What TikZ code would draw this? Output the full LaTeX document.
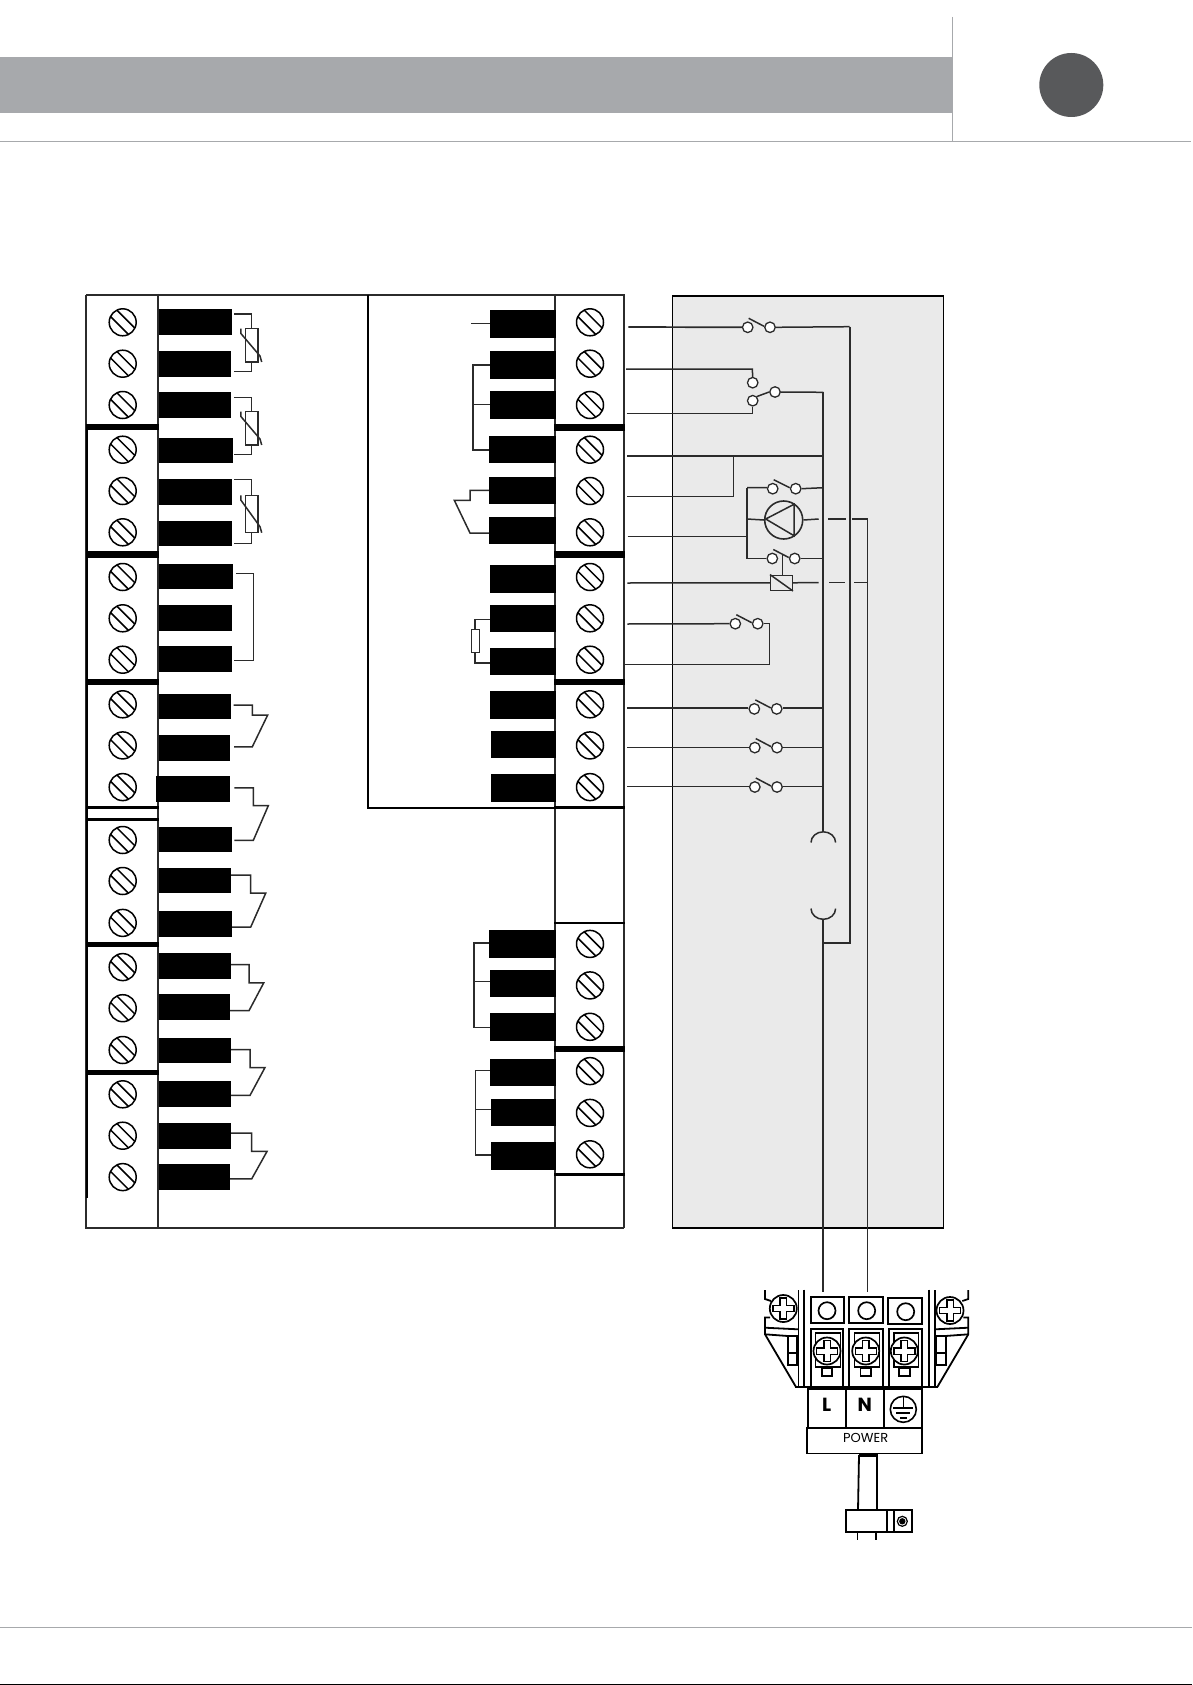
\documentclass[tikz,border=0pt]{standalone}
\usepackage{fontspec}
\setmainfont{Poppins}
\definecolor{hdr}{HTML}{A7A9AC}
\definecolor{dot}{HTML}{58595B}
\definecolor{panel}{HTML}{EAEAEA}
\definecolor{ink}{HTML}{2B2B2B}
\tikzset{
  wire/.style={line width=1.5pt,draw=ink,line join=miter},
  wall/.style={line width=2pt,draw=ink},
  divider/.style={draw=black},
  contact/.style={circle,draw=ink,fill=white,line width=1.3pt,inner sep=0pt,minimum size=10.5pt},
  screwhead/.style={circle,draw=black,fill=white,line width=1.5pt,inner sep=0pt,minimum size=27pt},
  barblock/.style={fill=black,draw=none,inner sep=0pt},
  tb/.style={line width=1.8pt,draw=black},
  tbscrew/.style={circle,draw=black,fill=white,line width=1.7pt,inner sep=0pt,minimum size=27pt},
}
% name, x, y
\newcommand{\slotscrew}[3]{%
  \node[screwhead] (#1) at (#2,#3) {};
  \draw[line width=1.5pt] (#2-5.8,#3-12.2) -- (#2+12.2,#3+5.8);
  \draw[line width=1.5pt] (#2-12.2,#3-5.8) -- (#2+5.8,#3+12.2);
}
% name, x0, x1, y0, y1
\newcommand{\blackbar}[5]{%
  \pgfmathsetmacro{\bw}{#3-#2}\pgfmathsetmacro{\bh}{#5-#4}%
  \node[barblock,minimum width=\bw pt,minimum height=\bh pt] (#1) at ({(#2+#3)/2},{(#4+#5)/2}) {};
}
% thermistor: x0, xm, y top, rect top, rect bot, y bot
\newcommand{\thermistor}[6]{%
  \draw[wire] (#1,#3) -- (#2,#3) -- (#2,#4) (#2,#5) -- (#2,#6) -- (#1,#6);
  \draw[wire,fill=white] (#2-6,#4) rectangle (#2+6.5,#5);
  \draw[wire] (#2-10.5,#4) -- (#2-10.5,#4+4.7) -- (#2+8.7,#5-6) -- (#2+10.4,#5);
}
% loop: x0,y0, xm, ymid, xtip, ybot, x1
\newcommand{\cloop}[7]{%
  \draw[wire] (#1,#2) -- (#3,#2) -- (#3,#4) -- (#5,#4) -- (#3,#6) -- (#7,#6);
}
% phillips screw on terminal
\newcommand{\crossscrew}[4]{%
  \node[tbscrew,minimum size=#4pt] (#1) at (#2,#3) {};
  \draw[line width=1.4pt,fill=white] (#2-3.2,#3-10.5) -- (#2+3.2,#3-10.5) -- (#2+3.2,#3-3.2) -- (#2+10.5,#3-3.2) -- (#2+10.5,#3+3.2) -- (#2+3.2,#3+3.2) -- (#2+3.2,#3+10.5) -- (#2-3.2,#3+10.5) -- (#2-3.2,#3+3.2) -- (#2-10.5,#3+3.2) -- (#2-10.5,#3-3.2) -- (#2-3.2,#3-3.2) -- cycle;
}
% switch: name, x of left contact, x of right contact, y
\newcommand{\nosw}[4]{%
  \node[contact] (#1a) at (#2,#4) {};
  \node[contact] (#1b) at (#3,#4) {};
  \draw[wire] (#2+1,#4-9) -- (#3-6,#4-1);
}
\begin{document}
\begin{tikzpicture}[x=1pt,y=-1pt]
\useasboundingbox (0,0) rectangle (1192,1685);
\fill[white] (0,0) rectangle (1192,1685);
% header and footer
\fill[hdr] (0,57) rectangle (952.3,112.7);
\draw[hdr,line width=1.2pt] (952.7,17) -- (952.7,141.3);
\draw[hdr,line width=1.2pt] (0,141.3) -- (1190.7,141.3);
\node[circle,fill=dot,minimum size=64pt,inner sep=0pt] (badge) at (1071.3,85) {};
\draw[hdr,line width=1.2pt] (0,1627.3) -- (1192,1627.3);
\draw[black,line width=1.6pt] (0,1684.3) -- (1192,1684.3);
% grey panel
\draw[fill=panel,draw=black,line width=1.2pt] (672.3,296) rectangle (943.3,1227.9);
% frames
\draw[wall] (158,294.6) -- (555,294.6);
\draw[wall] (86,295) -- (158,295);
\draw[wall] (86,295) -- (86,1227.5) -- (624,1227.5);
\draw[black,line width=2.6pt] (87,427) -- (87,1198);
\draw[wall] (158,294) -- (158,1227.5);
\draw[wall] (555,294) -- (555,1227.5);
\draw[line width=2.6pt,draw=ink] (555,295) -- (624,295) -- (624,1228);
\draw[line width=1.7pt,draw=black] (368,294.6) -- (368,807.9) -- (555,807.9);
% dividers
\foreach \yy/\tt in {427/6.5,554.3/6.5,681.8/6.5,807.9/3,819.3/3,944.6/5,1072.5/5.7}
  \draw[divider,line width=\tt pt] (86,\yy) -- (159,\yy);
\foreach \yy/\tt in {427.3/6.5,554.3/6.5,681.8/6.5,807.9/3,923.2/2.5,1049.3/6,1174.6/2.8}
  \draw[divider,line width=\tt pt] (554,\yy) -- (625,\yy);
% screws left
\foreach \n/\yy in {1/322.3,2/363.7,3/405,4/449.7,5/491,6/532.3,7/577,8/618.3,9/659.7,10/704.3,11/745.4,12/787.1,13/840,14/881,15/922.9,16/967.1,17/1008.2,18/1050,19/1094.3,20/1135.7,21/1177.1}
  {\slotscrew{sl\n}{122.7}{\yy}}
% screws right
\foreach \n/\yy in {1/322.3,2/363.7,3/405,4/449.7,5/491,6/532.3,7/577,8/618.3,9/659.7,10/704.3,11/745.4,12/787.1,13/943.9,14/985.4,15/1026.8,16/1071.1,17/1112.9,18/1154.3}
  {\slotscrew{sr\n}{590}{\yy}}
% black bars left
\foreach \n/\a/\b/\c/\d in {1/158.7/232/309/335,2/158.7/231/351/377,3/158.7/231/392/418,4/158.7/233/438/463,5/158.7/232/479/504.7,6/158.7/232/521/546,7/158.7/233/564/588.7,8/158.7/232/605/631,9/158.7/232/646/672,10/158.7/231/693.9/718.9,11/158.7/230/734.6/761.1,12/156/230/776.1/802.1,13/158.7/232/827.1/852.1,14/158.7/231/867.9/892.9,15/158.7/232/911.1/937.1,16/158.7/231/952.9/978.9,17/158.7/230/993.9/1020,18/158.7/231/1037.9/1062.9,19/158.7/231/1081.1/1107.1,20/158.7/231/1122.9/1148.9,21/158.7/230/1163.9/1190}
  {\blackbar{bl\n}{\a}{\b}{\c}{\d}}
% black bars right
\foreach \n/\a/\c/\d in {1/490/310/338,2/490/351/379,3/490/391/419,4/489/436/463,5/489/477/504,6/489/517/544,7/490/565/593,8/490/605/632,9/490/648/675,10/490/691.1/718.9,11/491/731.1/757.9,12/491/773.9/802.1,13/489/930/957.9,14/490/970/997.1,15/490/1012.9/1040.7,16/490/1058.9/1086.1,17/491/1098.9/1126.1,18/491/1142.1/1170}
  {\blackbar{br\n}{\a}{555.5}{\c}{\d}}
% left wiring
\thermistor{234}{251.3}{314}{328.7}{362}{371.3}
\thermistor{234}{251.3}{397.3}{411.7}{445}{454.7}
\thermistor{234}{251.3}{479.3}{495.3}{532.7}{543.7}
\draw[wire] (236,573.3) -- (253.3,573.3) -- (253.3,660.3) -- (234,660.3);
\cloop{233.7}{705}{252.3}{715}{267.7}{746.8}{234}
\cloop{234.3}{787.9}{253.3}{805.7}{268.3}{840.4}{234.3}
\cloop{231}{875}{250.7}{893.2}{265.7}{927.1}{232}
\cloop{231}{964.6}{249}{982.9}{263.7}{1010.7}{230}
\cloop{231}{1049.6}{250}{1067.5}{265}{1095.4}{231}
\cloop{231}{1133.2}{251.7}{1151.4}{267}{1178.9}{230}
% right-column inner wiring
\coordinate (stub) at (471,323.7);
\draw[wire] (stub) -- (br1.west |- stub);
\coordinate (br2w) at (473,365);
\draw[wire,line width=1.8pt] (br2.west |- br2w) -- (br2w) -- (473,450) -- (br4.west |- 473,450);
\draw[wire,line width=1.2pt] (473,404.3) -- (490,404.3);
\draw[wire] (489,490.3) -- (470,490.3) -- (470,500.3) -- (454.3,500.3) -- (470,533) -- (489,533);
\draw[wire] (490,619.3) -- (475,619.3) -- (475,629.7) (475,652.7) -- (475,663) -- (490,663);
\draw[wire,fill=white] (471.7,629.7) rectangle (479.3,652.7);
\draw[wire,line width=1.8pt] (489,942.9) -- (474,942.9) -- (474,1027.5) -- (490,1027.5);
\draw[wire,line width=1.2pt] (474,981.8) -- (490,981.8);
\draw[wire] (490,1070.4) -- (475.7,1070.4) -- (475.7,1155) -- (491,1155);
\draw[wire,line width=1.2pt] (475.7,1109.3) -- (491,1109.3);
% panel wiring: buses
\draw[wire,line width=1.7pt] (823.3,392.3) -- (823.3,831.8);
\draw[wire,line width=1.7pt] (849.7,326.7) -- (849.7,942.9) -- (823.3,942.9);
\draw[wire,line width=1.7pt] (823.3,919.3) -- (823.3,1291.7);
\draw[wire,line width=1.7pt] (867.5,519) -- (867.5,1291.7);
\draw[wire] (811,842.5) arc[start angle=180,end angle=360,x radius=12.3,y radius=10.7];
\draw[wire] (811,908.6) arc[start angle=180,end angle=0,x radius=12.3,y radius=10.7];
% switch 1
\nosw{s1}{747.7}{770}{327.3}
\coordinate (w1) at (628.3,327);
\draw[wire,line width=1.7pt] (w1) -- (s1a.west);
\draw[wire] (s1b.east) -- (849.7,326.7);
% changeover switch
\node[contact] (c1) at (752.7,382.7) {};
\node[contact] (c2) at (752.7,400.7) {};
\node[contact] (c3) at (775,392) {};
\draw[wire] (626,369) -- (752.3,369) -- (c1.north);
\draw[wire] (626.7,413.3) -- (752.7,413.3) -- (c2.south);
\draw[wire] (c2.north east) -- (c3.west);
\draw[wire] (c3.east) -- (823.3,392.3);
% branch
\draw[wire,line width=1.8pt] (627.3,455.7) -- (823.3,455.7);
\draw[wire] (733.7,455.7) -- (733.7,496.7) -- (626.7,496.7);
% pump group
\draw[wire] (627.7,536.3) -- (747,536.3);
\draw[wire] (747,487.7) -- (747,558.7);
\nosw{pa}{772.7}{795.7}{488.7}
\nosw{pb}{772.3}{794.7}{558.5}
\draw[wire] (747,487.7) -- (paa.west |- 747,487.7) (pab.east) -- (823.3,487.7);
\draw[wire] (747,558.5) -- (pba.west) (pbb.east) -- (823.3,558.5);
\node[circle,draw=ink,line width=1.6pt,minimum size=38pt,inner sep=0pt] (pump) at (783.7,520) {};
\draw[wire] (765.7,519) -- (794,504.3) -- (794,535.7) -- cycle;
\draw[wire] (747,519) -- (pump.west);
\draw[wire] (pump.east) -- (818.7,519);
\draw[wire] (828.3,519) -- (846,519);
\draw[wire,line width=1.8pt] (852,519) -- (867.5,519);
% relay
\node[draw=ink,line width=1.4pt,fill=panel,minimum width=21.6pt,minimum height=15pt,inner sep=0pt] (relay) at (781.5,582.8) {};
\draw[wire] (relay.north west) -- (relay.south east);
\draw[wire] (782.3,555) -- (relay.north -| 782.3,555);
\draw[wire] (627.3,583) -- (relay.west);
\draw[wire] (relay.east) -- (818.7,582.5);
\draw[wire] (829,582.5) -- (845.3,582.5);
\draw[wire,line width=1.8pt] (854,582.5) -- (867.5,582.5);
% switch
\nosw{sp}{735.3}{757.7}{623.7}
\draw[wire] (627.3,624) -- (spa.west);
\draw[wire] (spb.east) -- (769.7,623.7) -- (769.7,664.3) -- (625.3,664.3);
% three switches
\nosw{t1}{754.3}{776.7}{708.9}
\draw[wire] (627.3,708.2) -- (t1a.west |- 627.3,708.2) (t1b.east |- 0,708.2) -- (823.3,708.2);
\nosw{t2}{754.8}{777}{747.6}
\draw[wire] (627.3,747.6) -- (t2a.west) (t2b.east) -- (823.3,747.6);
\nosw{t3}{754.8}{777}{787}
\draw[wire] (627.3,786.6) -- (t3a.west |- 627.3,786.6) (t3b.east |- 0,786.6) -- (823.3,786.6);
% terminal block: left wing and mirror
\foreach \mir in {0,1}{
\begin{scope}[shift={(\mir*1733.3,0)},xscale={1-2*\mir}]
  \draw[tb] (765,1290) -- (765,1299) -- (771,1301);
  \draw[tb] (770,1317.5) -- (765,1317.5) -- (765,1334.3) -- (796,1387);
  \draw[tb] (765,1327.7) -- (798,1329.3);
  \draw[tb] (765,1334.3) -- (788,1336);
  \draw[tb] (787.7,1336) rectangle (797.3,1365);
  \draw[tb] (787.7,1353) -- (797.3,1353);
  \draw[tb] (798.5,1290) -- (798.5,1387);
  \draw[tb] (804.3,1289.5) -- (804.3,1387);
\end{scope}}
\draw[tb] (795,1387.2) -- (938,1387.2);
% terminal block: top squares
\draw[tb] (810.7,1296.7) rectangle (844,1322.7);
\draw[tb] (849.3,1296.7) rectangle (883.3,1323);
\draw[tb] (888.3,1297.7) rectangle (921.7,1323.7);
\node[circle,draw=black,line width=1.7pt,minimum size=17pt,inner sep=0pt] (h1) at (827,1310.7) {};
\node[circle,draw=black,line width=1.7pt,minimum size=17pt,inner sep=0pt] (h2) at (866.7,1310.7) {};
\node[circle,draw=black,line width=1.7pt,minimum size=17pt,inner sep=0pt] (h3) at (905.7,1311.7) {};
\crossscrew{cl}{783.3}{1308.5}{27}
\crossscrew{cr}{950}{1310.5}{27}
% terminal block: lower boxes
\foreach \xa/\xb/\sx/\n in {810.7/843.3/827/1,849.3/882.7/865.7/2,889/921.7/904.3/3}{
  \draw[tb] (\xa,1328.7) rectangle (\xb,1387);
  \draw[line width=1.4pt] (\xa+5,1333) -- (\xb-3,1333) -- (\xb-3,1367) -- (\xa+5,1367) -- cycle;
  \draw[tb] (\sx-5.3,1368.3) rectangle (\sx+5.3,1376);
  \crossscrew{m\n}{\sx}{1351}{27}
}
% terminal block: labels
\draw[tb] (807.7,1389.3) rectangle (922.3,1427.7);
\draw[tb] (806.7,1427.7) rectangle (922.3,1453.5);
\draw[tb] (845.7,1389.3) -- (845.7,1427.7);
\draw[tb] (884,1389.3) -- (884,1427.7);
\node[font=\fontsize{19}{19}\selectfont\bfseries,inner sep=0pt] (lblL) at (826.7,1405) {L};
\node[font=\fontsize{19}{19}\selectfont\bfseries,inner sep=0pt] (lblN) at (864.7,1405) {N};
\node[font=\fontsize{13}{14}\selectfont,inner sep=0pt] (lblP) at (865.7,1438) {POWER};
\node[circle,draw=black,line width=1.6pt,minimum size=26pt,inner sep=0pt] (gnd) at (903.3,1409.3) {};
\draw[line width=1.6pt] (903.3,1396.3) -- (903.3,1408);
\draw[line width=1.6pt] (893.3,1408) -- (913.3,1408) (896.3,1413) -- (910.3,1413) (899.8,1418) -- (906.8,1418);
% cable and clamp
\draw[tb] (859,1455) -- (858,1510);
\draw[tb] (877,1455) -- (877,1510);
\draw[line width=3pt] (858.5,1455) -- (877.5,1455);
\draw[tb] (845.7,1510) rectangle (912.3,1532.3);
\draw[tb] (887,1510) -- (887,1532.3);
\draw[tb] (894,1510) -- (894,1532.3);
\node[circle,draw=black,line width=1.2pt,minimum size=10pt,inner sep=0pt] (bolt) at (902.3,1521.3) {};
\fill (bolt.center) circle (3.2);
\draw[tb] (857.5,1532.3) -- (857.5,1540);
\draw[tb] (876,1532.3) -- (876,1540);
\end{tikzpicture}
\end{document}
